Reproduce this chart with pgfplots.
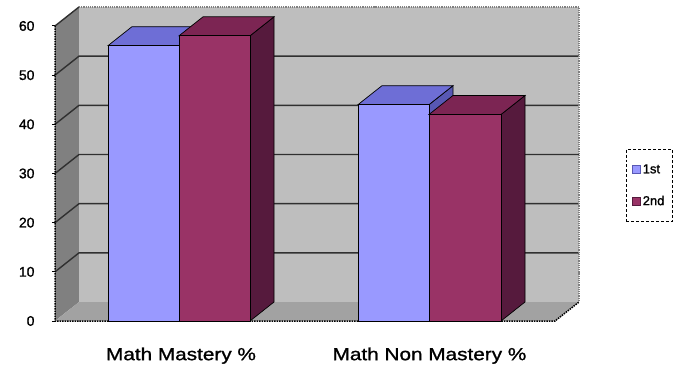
\documentclass[border=0pt]{standalone}
\usepackage{pgfplots}
\pgfplotsset{compat=1.18}
\usepackage{fontspec}
\setmainfont{Liberation Sans}[FakeBold=1.2]
\newfontfamily\widefont[FakeStretch=1.19,FakeBold=1.2]{Liberation Sans}

% wall and floor shades
\definecolor{backwall}{HTML}{BEBEBE}
\definecolor{sidewall}{HTML}{808080}
\definecolor{floorc}{HTML}{A2A2A2}
\definecolor{gridc}{HTML}{303030}
% series 1st
\definecolor{bluefront}{HTML}{9999FF}
\definecolor{bluetop}{HTML}{6E6ED6}
\definecolor{blueside}{HTML}{5858B4}
% series 2nd
\definecolor{redfront}{HTML}{993366}
\definecolor{redtop}{HTML}{7C2553}
\definecolor{redside}{HTML}{561A3D}

\begin{document}
\begin{tikzpicture}
\useasboundingbox (-55bp,-49bp) rectangle (641bp,321bp);
\begin{axis}[
  x=1bp, y=4.917bp,
  xmin=55, xmax=555, ymin=0, ymax=60,
  clip=false,
  axis line style={draw=none},
  ytick={0,10,...,60},
  ytick pos=left,
  xtick pos=bottom,
  xtick={181,429.5},
  xticklabels={Math Mastery \%, Math Non Mastery \%},
  x tick style={draw=none},
  extra x ticks={55,305,555},
  extra x tick labels={},
  extra x tick style={tick style={draw=black, line width=1.2bp}},
  y tick style={draw=black, line width=1bp},
  tick align=outside,
  major tick length=3bp,
  /pgf/number format/assume math mode=true,
  yticklabel style={font=\fontsize{14}{16}\selectfont, xshift=-14bp},
  xticklabel style={font=\widefont\fontsize{17.5}{20}\selectfont, yshift=-20bp},
  legend style={at={(axis cs:626,34.98)}, anchor=north west,
    draw=black, densely dashed, line width=0.8bp,
    font=\fontsize{13}{15}\selectfont,
    inner xsep=6bp, inner ysep=13bp, row sep=17bp},
  legend cell align=left,
  legend entries={1st\hspace{30bp},2nd\hspace{30bp}},
]
\addlegendimage{only marks, mark=square*, mark size=4.2bp,
  mark options={solid, fill=bluefront, draw=blueside, line width=0.9bp}}
\addlegendimage{only marks, mark=square*, mark size=4.2bp,
  mark options={solid, fill=redfront, draw=redside, line width=0.9bp}}

% walls and floor
\addplot[forget plot, fill=sidewall, draw=none] coordinates {(55,0) (79,3.86) (79,63.86) (55,60)} -- cycle;
\addplot[forget plot, fill=backwall, draw=none] coordinates {(79,3.86) (579,3.86) (579,63.86) (79,63.86)} -- cycle;
\addplot[forget plot, fill=floorc, draw=none] coordinates {(55,0) (555,0) (579,3.86) (79,3.86)} -- cycle;

% gridlines on side and back walls
\addplot[forget plot, gridc, line width=1.4bp] coordinates {(55,10) (79,13.86) (579,13.86)};
\addplot[forget plot, gridc, line width=1.4bp] coordinates {(55,20) (79,23.86) (579,23.86)};
\addplot[forget plot, gridc, line width=1.4bp] coordinates {(55,30) (79,33.86) (579,33.86)};
\addplot[forget plot, gridc, line width=1.4bp] coordinates {(55,40) (79,43.86) (579,43.86)};
\addplot[forget plot, gridc, line width=1.4bp] coordinates {(55,50) (79,53.86) (579,53.86)};
\addplot[forget plot, gridc, line width=1.4bp] coordinates {(55,60) (79,63.86)};
\addplot[forget plot, gray, densely dotted, line width=1.2bp] coordinates {(79,63.86) (579,63.86) (579,3.86)};
\addplot[forget plot, black, densely dotted, line width=1.5bp] coordinates {(55,60) (55,0) (555,0) (579,3.86)};

% Math Mastery %, 1st = 56
\addplot[forget plot, fill=blueside, draw=black, line width=0.7bp] coordinates {(179,0) (203,3.86) (203,59.86) (179,56)} -- cycle;
\addplot[forget plot, fill=bluetop, draw=black, line width=0.7bp] coordinates {(108,56) (179,56) (203,59.86) (132,59.86)} -- cycle;
\addplot[forget plot, fill=bluefront, draw=black, line width=0.7bp] coordinates {(108,0) (179,0) (179,56) (108,56)} -- cycle;
% Math Mastery %, 2nd = 58
\addplot[forget plot, fill=redside, draw=black, line width=0.7bp] coordinates {(250,0) (274,3.86) (274,61.86) (250,58)} -- cycle;
\addplot[forget plot, fill=redtop, draw=black, line width=0.7bp] coordinates {(179,58) (250,58) (274,61.86) (203,61.86)} -- cycle;
\addplot[forget plot, fill=redfront, draw=black, line width=0.7bp] coordinates {(179,0) (250,0) (250,58) (179,58)} -- cycle;
% Math Non Mastery %, 1st = 44
\addplot[forget plot, fill=blueside, draw=black, line width=0.7bp] coordinates {(429,0) (453,3.86) (453,47.86) (429,44)} -- cycle;
\addplot[forget plot, fill=bluetop, draw=black, line width=0.7bp] coordinates {(358,44) (429,44) (453,47.86) (382,47.86)} -- cycle;
\addplot[forget plot, fill=bluefront, draw=black, line width=0.7bp] coordinates {(358,0) (429,0) (429,44) (358,44)} -- cycle;
% Math Non Mastery %, 2nd = 42
\addplot[forget plot, fill=redside, draw=black, line width=0.7bp] coordinates {(501,0) (525,3.86) (525,45.86) (501,42)} -- cycle;
\addplot[forget plot, fill=redtop, draw=black, line width=0.7bp] coordinates {(429,42) (501,42) (525,45.86) (453,45.86)} -- cycle;
\addplot[forget plot, fill=redfront, draw=black, line width=0.7bp] coordinates {(429,0) (501,0) (501,42) (429,42)} -- cycle;
\end{axis}
\end{tikzpicture}
\end{document}
